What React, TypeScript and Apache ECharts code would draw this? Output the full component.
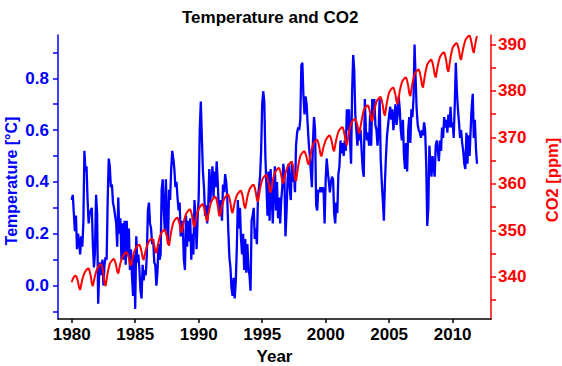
import React, { useEffect, useRef } from "react";
import * as echarts from "echarts";

// Monthly global temperature anomaly [°C], Jan 1980 – Dec 2011
const temp1980s = [
  0.33, 0.35, 0.28, 0.21, 0.27, 0.14, 0.20, 0.17, 0.12, 0.19, 0.15, 0.24,
  0.52, 0.44, 0.46, 0.33, 0.24, 0.28, 0.29, 0.30, 0.16, 0.07, 0.13, 0.35,
  0.28, -0.07, 0.05, 0.09, 0.04, 0.10, 0.00, 0.08, 0.11, 0.10, 0.33, 0.49,
  0.46, 0.38, 0.39, 0.32, 0.30, 0.27, 0.24, 0.15, 0.34, 0.20, 0.26, 0.10,
  0.24, 0.10, 0.25, 0.08, 0.25, 0.12, 0.22, 0.06, 0.14, 0.03, -0.04, 0.12,
  -0.09, 0.19, 0.09, 0.12, 0.06, -0.02, -0.05, 0.08, 0.02, 0.06, 0.04, 0.12,
  0.29, 0.32, 0.24, 0.22, 0.16, 0.18, 0.09, 0.08, 0.00, 0.05, 0.16, 0.10,
  0.12, 0.37, 0.41, 0.29, 0.21, 0.41, 0.25, 0.16, 0.37, 0.33, 0.45, 0.52,
  0.49, 0.45, 0.38, 0.40, 0.34, 0.29, 0.32, 0.19, 0.25, 0.22, 0.10, 0.06,
  0.27, 0.15, 0.25, 0.17, 0.26, 0.10, 0.20, 0.12, 0.33, 0.27, 0.14, 0.26,
];
const temp1990s = [
  0.34, 0.60, 0.71, 0.57, 0.44, 0.38, 0.27, 0.31, 0.24, 0.30, 0.45, 0.32,
  0.40, 0.46, 0.34, 0.44, 0.38, 0.48, 0.40, 0.30, 0.27, 0.33, 0.25, 0.39,
  0.36, 0.43, 0.40, 0.34, 0.21, 0.11, 0.07, -0.01, -0.04, 0.03, -0.05, 0.01,
  0.14, 0.33, 0.22, 0.30, 0.18, 0.12, 0.20, 0.06, 0.18, 0.05, 0.16, 0.07,
  0.04, -0.02, 0.25, 0.27, 0.30, 0.18, 0.22, 0.16, 0.34, 0.38, 0.42, 0.52,
  0.70, 0.75, 0.71, 0.50, 0.39, 0.27, 0.44, 0.25, 0.45, 0.35, 0.24, 0.37,
  0.46, 0.29, 0.40, 0.26, 0.34, 0.24, 0.33, 0.38, 0.47, 0.42, 0.19, 0.28,
  0.41, 0.47, 0.38, 0.33, 0.48, 0.40, 0.44, 0.36, 0.54, 0.59, 0.61, 0.60,
  0.64, 0.85, 0.86, 0.73, 0.66, 0.73, 0.70, 0.62, 0.55, 0.50, 0.44, 0.38,
  0.56, 0.65, 0.60, 0.31, 0.29, 0.37, 0.36, 0.38, 0.36, 0.38, 0.37, 0.24,
];
const temp2000s = [
  0.41, 0.49, 0.44, 0.40, 0.36, 0.40, 0.42, 0.41, 0.28, 0.24, 0.32, 0.28,
  0.43, 0.46, 0.56, 0.51, 0.55, 0.50, 0.56, 0.52, 0.68, 0.60, 0.68, 0.56,
  0.47, 0.75, 0.89, 0.83, 0.66, 0.60, 0.54, 0.61, 0.56, 0.60, 0.52, 0.45,
  0.42, 0.72, 0.60, 0.56, 0.59, 0.54, 0.66, 0.54, 0.72, 0.66, 0.72, 0.62,
  0.60, 0.54, 0.60, 0.72, 0.49, 0.40, 0.33, 0.25, 0.40, 0.50, 0.58, 0.62,
  0.66, 0.69, 0.64, 0.68, 0.60, 0.65, 0.70, 0.62, 0.66, 0.73, 0.68, 0.60,
  0.56, 0.64, 0.50, 0.45, 0.55, 0.44, 0.60, 0.65, 0.55, 0.68, 0.65, 0.72,
  0.93, 0.80, 0.68, 0.62, 0.60, 0.59, 0.57, 0.60, 0.58, 0.63, 0.60, 0.47,
  0.23, 0.30, 0.54, 0.47, 0.42, 0.50, 0.46, 0.42, 0.54, 0.56, 0.52, 0.48,
  0.56, 0.52, 0.61, 0.57, 0.65, 0.61, 0.64, 0.59, 0.66, 0.61, 0.69, 0.61,
];
const temp2010s = [
  0.63, 0.57, 0.70, 0.86, 0.75, 0.68, 0.63, 0.57, 0.60, 0.55, 0.52, 0.47,
  0.45, 0.59, 0.47, 0.58, 0.50, 0.60, 0.69, 0.74, 0.57, 0.64, 0.53, 0.47,
];

// Monthly CO2 [ppm], Jan 1980 – Dec 2011
const co21980s = [
  338.8, 339.5, 339.9, 340.15, 340.2, 339.7, 338.85, 337.65, 337.2, 338.3, 339.4, 340.15,
  340.8, 341.2, 341.5, 341.75, 341.8, 341.15, 340.1, 338.55, 338.0, 339.1, 340.2, 341.0,
  341.7, 342.1, 342.4, 342.65, 342.7, 341.9, 340.6, 338.7, 338.0, 339.45, 340.9, 341.95,
  342.8, 343.2, 343.5, 343.75, 343.8, 343.3, 342.4, 341.2, 340.7, 341.8, 342.9, 343.65,
  344.3, 344.7, 345.0, 345.25, 345.3, 344.8, 344.0, 342.85, 342.4, 343.45, 344.5, 345.3,
  345.9, 346.3, 346.6, 346.85, 346.9, 346.35, 345.4, 344.1, 343.6, 344.7, 345.75, 346.55,
  347.2, 347.6, 347.9, 348.15, 348.2, 347.7, 346.8, 345.55, 345.1, 346.3, 347.5, 348.4,
  349.1, 349.5, 349.8, 350.05, 350.1, 349.5, 348.6, 347.2, 346.7, 348.2, 349.7, 350.8,
  351.7, 352.1, 352.4, 352.65, 352.7, 352.15, 351.3, 350.0, 349.5, 350.7, 351.9, 352.8,
  353.5, 353.9, 354.2, 354.45, 354.5, 353.85, 352.8, 351.3, 350.7, 351.9, 353.0, 353.9,
];
const co21990s = [
  354.6, 355.0, 355.3, 355.55, 355.6, 355.0, 354.0, 352.55, 352.0, 353.25, 354.5, 355.45,
  356.2, 356.6, 356.9, 357.15, 357.2, 356.5, 355.3, 353.6, 353.0, 354.1, 355.2, 356.0,
  356.7, 357.1, 357.4, 357.65, 357.7, 357.0, 355.9, 354.3, 353.7, 354.85, 356.0, 356.8,
  357.5, 357.9, 358.2, 358.45, 358.5, 357.85, 356.8, 355.3, 354.7, 355.9, 357.2, 358.1,
  358.8, 359.2, 359.5, 359.75, 359.8, 359.2, 358.1, 356.65, 356.1, 357.5, 359.0, 360.0,
  360.9, 361.3, 361.6, 361.85, 361.9, 361.25, 360.2, 358.7, 358.1, 359.4, 360.7, 361.6,
  362.4, 362.8, 363.1, 363.35, 363.4, 362.85, 361.9, 360.6, 360.1, 361.2, 362.3, 363.05,
  363.7, 364.1, 364.4, 364.65, 364.7, 364.0, 362.85, 361.2, 360.6, 362.2, 363.85, 365.0,
  366.0, 366.4, 366.7, 366.95, 367.0, 366.5, 365.7, 364.55, 364.1, 365.35, 366.6, 367.6,
  368.5, 368.9, 369.2, 369.45, 369.5, 368.9, 367.9, 366.45, 365.9, 366.95, 368.0, 368.7,
];
const co22000s = [
  369.4, 369.8, 370.1, 370.35, 370.4, 369.8, 368.9, 367.5, 367.0, 368.3, 369.5, 370.45,
  371.2, 371.6, 371.9, 372.15, 372.2, 371.55, 370.45, 368.9, 368.3, 369.7, 371.1, 372.15,
  373.0, 373.4, 373.7, 373.95, 374.0, 373.45, 372.55, 371.3, 370.8, 372.35, 373.7, 374.9,
  375.9, 376.3, 376.6, 376.85, 376.9, 376.3, 375.3, 373.9, 373.4, 374.7, 376.0, 376.9,
  377.7, 378.1, 378.4, 378.65, 378.7, 378.0, 376.9, 375.3, 374.7, 376.2, 377.7, 378.8,
  379.7, 380.1, 380.4, 380.65, 380.7, 380.1, 379.1, 377.65, 377.1, 378.5, 380.0, 381.0,
  381.9, 382.3, 382.6, 382.85, 382.9, 382.2, 381.1, 379.5, 378.9, 380.3, 381.7, 382.75,
  383.6, 384.0, 384.3, 384.55, 384.6, 383.95, 382.85, 381.3, 380.7, 382.2, 383.7, 384.8,
  385.7, 386.1, 386.4, 386.65, 386.7, 386.05, 385.0, 383.5, 382.9, 384.2, 385.5, 386.5,
  387.3, 387.7, 388.0, 388.25, 388.3, 387.6, 386.4, 384.7, 384.1, 385.65, 387.2, 388.4,
];
const co22010s = [
  389.3, 389.7, 390.0, 390.25, 390.3, 389.7, 388.7, 387.25, 386.7, 388.0, 389.2, 390.1,
  390.9, 391.3, 391.6, 391.85, 391.9, 391.3, 390.2, 388.8, 388.2, 389.6, 390.9, 391.8,
];

const startYear = 1980;
const yearTicks = [1980, 1985, 1990, 1995, 2000, 2005, 2010];
const tempTicks = [-0.1, 0, 0.1, 0.2, 0.3, 0.4, 0.5, 0.6, 0.7, 0.8, 0.9];
const tempLabels = [0, 0.2, 0.4, 0.6, 0.8];
const co2Ticks = [335, 340, 345, 350, 355, 360, 365, 370, 375, 380, 385, 390];
const co2Labels = [340, 350, 360, 370, 380, 390];

const FONT = "'Liberation Sans', Arial, sans-serif";
const BLUE = "#0000ff";
const RED = "#ff0000";

export default function App() {
  const ref = useRef<HTMLDivElement>(null);

  useEffect(() => {
    if (!ref.current) return;
    const chart = echarts.init(ref.current, undefined, { renderer: "svg" });
    const temp = [...temp1980s, ...temp1990s, ...temp2000s, ...temp2010s];
    const co2 = [...co21980s, ...co21990s, ...co22000s, ...co22010s];
    const tempData = temp.map((v, i) => [startYear + i / 12, v]);
    const co2Data = co2.map((v, i) => [startYear + i / 12, v]);

    chart.setOption({
      animation: false,
      backgroundColor: "#ffffff",
      title: {
        text: "Temperature and CO2",
        left: 177,
        top: 4,
        textStyle: { fontFamily: FONT, fontSize: 17, fontWeight: "bold", color: "#000" },
      },
      graphic: [
        {
          type: "text",
          x: 11,
          y: 181,
          rotation: Math.PI / 2,
          style: {
            text: "Temperature [°C]",
            fill: BLUE,
            font: `bold 16px ${FONT}`,
            align: "center",
            verticalAlign: "middle",
          },
        },
        {
          type: "text",
          x: 552,
          y: 180,
          rotation: Math.PI / 2,
          style: {
            text: "CO2 [ppm]",
            fill: RED,
            font: `bold 16.5px ${FONT}`,
            align: "center",
            verticalAlign: "middle",
          },
        },
      ],
      grid: { left: 58, right: 71, top: 35, bottom: 47, containLabel: false, outerBoundsMode: "none" },
      xAxis: {
        type: "value",
        min: 1978.92,
        max: 2013.02,
        name: "Year",
        nameLocation: "middle",
        nameGap: 27,
        nameTextStyle: { fontFamily: FONT, fontSize: 17, fontWeight: "bold", color: "#000" },
        axisLine: { show: true, onZero: false, lineStyle: { color: "#000", width: 1.5 } },
        axisTick: { show: true, inside: false, length: 4, customValues: yearTicks, lineStyle: { color: "#000", width: 1.5 } },
        axisLabel: {
          customValues: yearTicks,
          margin: 7,
          formatter: (v: number) => String(Math.round(v)),
          fontFamily: FONT,
          fontSize: 17,
          fontWeight: "bold",
          color: "#000",
        },
        splitLine: { show: false },
      },
      yAxis: [
        {
          type: "value",
          position: "left",
          min: -0.129,
          max: 0.967,
          axisLine: { show: true, onZero: false, lineStyle: { color: BLUE, width: 1.5 } },
          axisTick: { show: true, inside: false, length: 5, customValues: tempTicks, lineStyle: { color: BLUE, width: 1.5 } },
          axisLabel: {
            customValues: tempLabels,
            margin: 9,
            formatter: (v: number) => v.toFixed(1),
            fontFamily: FONT,
            fontSize: 17,
            fontWeight: "bold",
            color: BLUE,
          },
          splitLine: { show: false },
        },
        {
          type: "value",
          position: "right",
          min: 330.9,
          max: 392.05,
          axisLine: { show: true, onZero: false, lineStyle: { color: RED, width: 1.5 } },
          axisTick: { show: true, inside: false, length: 5, customValues: co2Ticks, lineStyle: { color: RED, width: 1.5 } },
          axisLabel: {
            customValues: co2Labels,
            margin: 7,
            formatter: (v: number) => String(Math.round(v)),
            fontFamily: FONT,
            fontSize: 17,
            fontWeight: "bold",
            color: RED,
          },
          splitLine: { show: false },
        },
      ],
      series: [
        {
          name: "Temperature",
          type: "line",
          yAxisIndex: 0,
          data: tempData,
          showSymbol: false,
          symbol: "none",
          lineStyle: { color: BLUE, width: 2.3 },
          itemStyle: { color: BLUE },
          z: 2,
        },
        {
          name: "CO2",
          type: "line",
          yAxisIndex: 1,
          data: co2Data,
          showSymbol: false,
          symbol: "none",
          lineStyle: { color: RED, width: 2 },
          itemStyle: { color: RED },
          z: 3,
        },
      ],
    });
    return () => chart.dispose();
  }, []);

  return (
    <div
      ref={ref}
      style={{ position: "fixed", left: 0, top: 0, width: 562, height: 366, background: "#fff" }}
    />
  );
}
